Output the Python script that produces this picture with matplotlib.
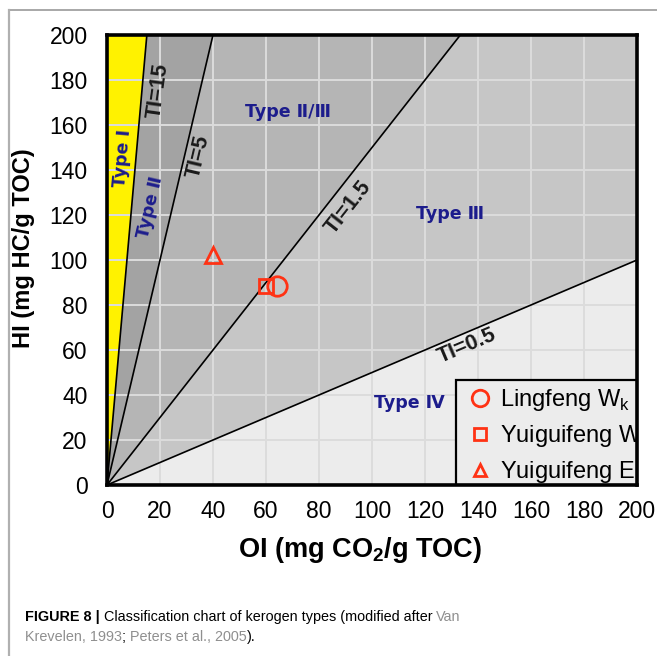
import numpy as np
import matplotlib
matplotlib.use('Agg')
import matplotlib.pyplot as plt
from matplotlib import font_manager
from matplotlib.lines import Line2D
from matplotlib.patches import Rectangle

plt.rcParams['font.family'] = ['Liberation Sans', 'DejaVu Sans']
plt.rcParams['mathtext.fontset'] = 'custom'
plt.rcParams['mathtext.rm'] = 'Liberation Sans'
plt.rcParams['mathtext.bf'] = 'Liberation Sans:bold'

# TI boundary lines: label, slope HI/OI as drawn, label centre (OI, HI)
ti_labels = ['TI=15', 'TI=5', 'TI=1.5', 'TI=0.5']
ti_slopes = [13.3, 5.0, 1.5, 0.5]
ti_label_pos = [(19.5, 175.0), (34.3, 145.8), (91.0, 123.6), (136.0, 62.0)]

# zone fills from below TI=0.5 up to above TI=15
zone_colors = ['#ececec', '#c6c6c6', '#b5b5b5', '#a3a3a3', '#fff200']

type_names = ['Type Ⅰ', 'Type Ⅱ', 'Type Ⅱ/Ⅲ', 'Type Ⅲ', 'Type Ⅳ']
type_pos = [(5.7, 145), (16.2, 123.6), (68.3, 165.8), (129.4, 120.4), (114, 36.4)]
type_rot = [85, 77, 0, 0, 0]

sample_names = ['Lingfeng W$_{\\mathregular{k}}$', 'Yuiguifeng W$_{\\mathregular{k}}$',
                'Yuiguifeng E$_{\\mathregular{k}}$']
sample_oi = [64.2, 60.0, 40.0]
sample_hi = [88.4, 88.4, 102.2]
sample_markers = ['o', 's', '^']
sample_sizes = [14, 10, 11]
red = '#ff3214'

W, H = 657, 656
fig = plt.figure(figsize=(W / 100, H / 100), dpi=100)
ax = fig.add_axes([107 / W, 1 - 485 / H, 530 / W, 450 / H])
ax.set_xlim(0, 200)
ax.set_ylim(0, 200)

# zones, layered from the flattest line upwards
ax.add_patch(Rectangle((0, 0), 200, 200, fc=zone_colors[0], lw=0, zorder=0))


def line_end(s):
    return (200 / s, 200.0) if s >= 1 else (200.0, 200 * s)


for s, c in zip(ti_slopes[::-1], zone_colors[1:]):
    ex, ey = line_end(s)
    px = [0, ex] + ([200] if ex == 200 else []) + [0]
    py = [0, ey] + ([200] if ex == 200 else []) + [200]
    ax.fill(px, py, color=c, lw=0, zorder=0.5)

ax.grid(True, color='#dcdcdc', lw=1.4)
ax.set_xticks(np.arange(0, 201, 20))
ax.set_yticks(np.arange(0, 201, 20))

for s in ti_slopes:
    ex, ey = line_end(s)
    ax.plot([0, ex], [0, ey], color='black', lw=1.2, zorder=2)

# label angles in screen space
bb = ax.get_window_extent()
sx, sy = bb.width / 200, bb.height / 200
for lab, s, (x, y) in zip(ti_labels, ti_slopes, ti_label_pos):
    ang = np.degrees(np.arctan2(s * sy, sx))
    if s > 10:
        ang -= 3
    ax.text(x, y, lab, rotation=ang, rotation_mode='anchor', ha='center', va='center',
            fontsize=15.5, fontweight='bold', color='#1a1a1a', zorder=3)

for name, (x, y), r in zip(type_names, type_pos, type_rot):
    ax.text(x, y, name, rotation=r, rotation_mode='anchor', ha='center', va='center',
            fontsize=12.5, fontweight='bold', color='#1c1c8c',
            family=['DejaVu Sans', 'Noto Sans CJK SC'], zorder=3)

handles = []
for n, ox, hy, m, ms in zip(sample_names, sample_oi, sample_hi, sample_markers, sample_sizes):
    h, = ax.plot(ox, hy, linestyle='none', marker=m, markersize=ms, mfc='none',
                 mec=red, mew=2, label=n, zorder=4)
    handles.append(h)

leg = ax.legend(handles=handles, loc='upper left',
                bbox_to_anchor=((456 - 107) / 530, (485 - 380) / 450),
                borderaxespad=0, borderpad=0.3, handlelength=1.4, handletextpad=0.15,
                labelspacing=0.42, fontsize=17, fancybox=False, framealpha=1,
                facecolor=zone_colors[0], edgecolor='black', markerscale=0.85)
leg.get_frame().set_linewidth(1.6)
leg.set_zorder(5)
for a in leg.findobj():
    a.set_clip_on(True)
    a.set_clip_box(ax.bbox)

for sp in ax.spines.values():
    sp.set_linewidth(2.6)
    sp.set_zorder(6)

ax.tick_params(axis='both', length=0, labelsize=16.5)
ax.tick_params(axis='x', pad=11)
ax.tick_params(axis='y', pad=14)

ax.set_xlabel('OI (mg CO$_{\\mathbf{2}}$/g TOC)', fontsize=19.5, fontweight='bold')
ax.xaxis.set_label_coords(0.477, -0.112)
ax.set_ylabel('HI (mg HC/g TOC)', fontsize=17, fontweight='bold')
ax.yaxis.set_label_coords(-0.136, 0.527)

# page frame
fig.add_artist(Line2D([10 / W, 1], [1 - 10 / H] * 2, transform=fig.transFigure,
                      color='#9a9a9a', lw=1.2))
fig.add_artist(Line2D([9 / W] * 2, [0, 1 - 10 / H], transform=fig.transFigure,
                      color='#b0b0b0', lw=1.6))

# caption
names = {f.name for f in font_manager.fontManager.ttflist}
narrow = 'Liberation Sans Narrow' in names
cap_font = 'Liberation Sans Narrow' if narrow else 'Liberation Sans'
cap_size = 12.5 if narrow else 10.4
grey = '#8f8f8f'
line1 = [('FIGURE 8 | ', 'black', 'bold'),
         ('Classification chart of kerogen types (modified after ', 'black', 'normal'),
         ('Van', grey, 'normal')]
line2 = [('Krevelen, 1993', grey, 'normal'), ('; ', 'black', 'normal'),
         ('Peters et al., 2005', grey, 'normal'), (').', 'black', 'normal')]
for parts, yb in [(line1, 1 - 621 / H), (line2, 1 - 641 / H)]:
    prev = None
    for txt, col, wt in parts:
        if prev is None:
            prev = fig.text(25 / W, yb, txt, color=col, fontweight=wt, family=cap_font,
                            fontsize=cap_size, va='baseline', ha='left')
        else:
            prev = ax.annotate(txt, xy=(1, 0), xycoords=prev, va='bottom', ha='left',
                               color=col, fontweight=wt, family=cap_font,
                               fontsize=cap_size, annotation_clip=False)

fig.savefig('out.png', dpi=100)
